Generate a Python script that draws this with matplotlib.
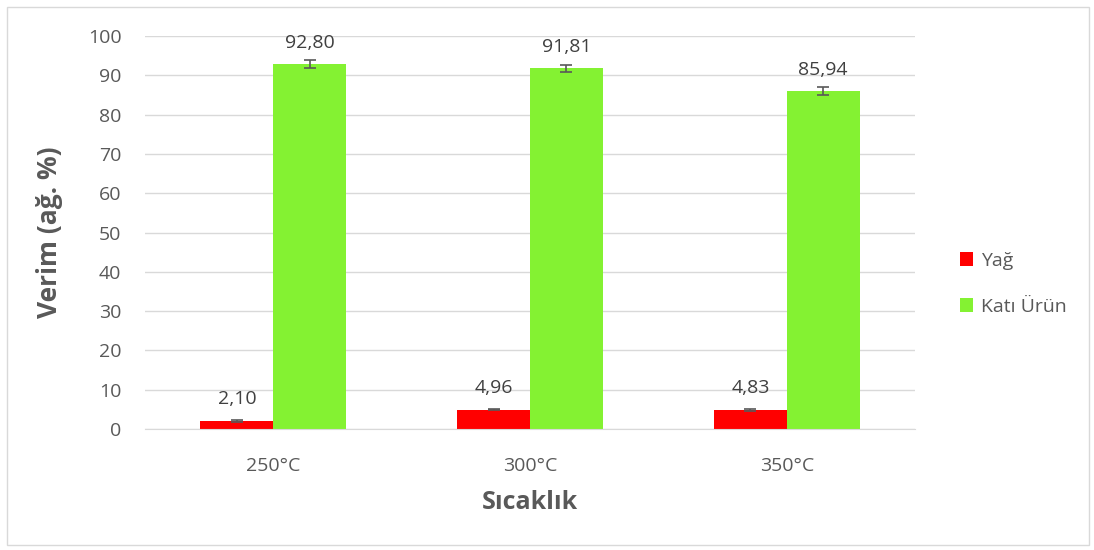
import matplotlib.pyplot as plt
import matplotlib.patches as mpatches
import numpy as np

# Data
categories = ['250°C', '300°C', '350°C']
yag = [2.10, 4.96, 4.83]
kati = [92.80, 91.81, 85.94]
yag_err = [0.2, 0.2, 0.2]
kati_err = [1.0, 0.9, 1.0]

plt.rcParams['font.family'] = ['Open Sans', 'DejaVu Sans']
text_color = '#595959'

fig = plt.figure(figsize=(10.94, 5.5), dpi=100)
ax = fig.add_axes([0.1325, 0.22, 0.704, 0.7145])

x = np.arange(len(categories))
w = 0.284
ax.bar(x - w / 2, yag, w, color='#ff0000', label='Yağ', zorder=2)
ax.bar(x + w / 2, kati, w, color='#84f232', label='Katı Ürün', zorder=2)
ax.errorbar(x - w / 2, yag, yerr=yag_err, fmt='none', ecolor='#595959',
            elinewidth=1.2, capsize=4, capthick=1.2, zorder=3)
ax.errorbar(x + w / 2, kati, yerr=kati_err, fmt='none', ecolor='#595959',
            elinewidth=1.2, capsize=4, capthick=1.2, zorder=3)

for xi, v in zip(x - w / 2, yag):
    ax.text(xi, v + 3.2, f'{v:.2f}'.replace('.', ','), ha='center', va='bottom',
            fontsize=14, color='#404040')
for xi, v in zip(x + w / 2, kati):
    ax.text(xi, v + 3.2, f'{v:.2f}'.replace('.', ','), ha='center', va='bottom',
            fontsize=14, color='#404040')

ax.set_xlim(-0.5, 2.5)
ax.set_ylim(0, 100)
ax.set_yticks(range(0, 101, 10))
ax.set_xticks(x)
ax.set_xticklabels(categories)
ax.tick_params(axis='y', length=0, labelsize=14, labelcolor=text_color, pad=17)
ax.tick_params(axis='x', length=0, labelsize=14, labelcolor=text_color, pad=20)
ax.grid(axis='y', color='#d9d9d9', linewidth=1, zorder=0)
for s in ['top', 'right', 'left']:
    ax.spines[s].set_visible(False)
ax.spines['bottom'].set_color('#d9d9d9')

ax.set_ylabel('Verim (ağ. %)', fontsize=19, fontweight='bold', color=text_color, labelpad=18)
ax.set_xlabel('Sıcaklık', fontsize=18, fontweight='bold', color=text_color, labelpad=11)

ax.legend(loc='center left', bbox_to_anchor=(1.035, 0.37), frameon=False,
          fontsize=14, labelcolor=text_color, handlelength=0.7, handleheight=0.7,
          handletextpad=0.4, labelspacing=1.45)

fig.patches.append(mpatches.Rectangle((0.006, 0.01), 0.989, 0.978, transform=fig.transFigure,
                                      fill=False, edgecolor='#d9d9d9', linewidth=1))

plt.savefig('out.png', dpi=100)
